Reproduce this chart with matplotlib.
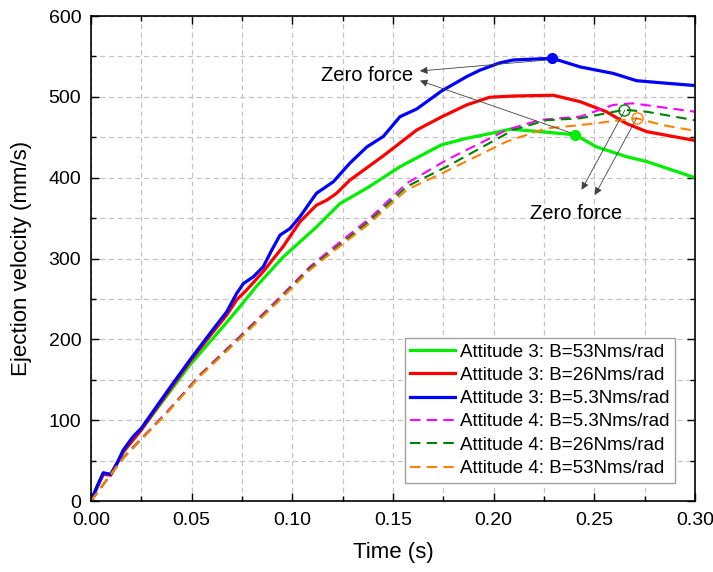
import matplotlib.pyplot as plt
from matplotlib.ticker import MultipleLocator

plt.rcParams['font.family'] = ['Liberation Sans', 'DejaVu Sans']

# Attitude 3 (solid)
t_a3_b53 = [0, 0.006, 0.0098, 0.016, 0.025, 0.049, 0.0657, 0.074, 0.0823, 0.0955, 0.112,
            0.1237, 0.137, 0.1535, 0.174, 0.1866, 0.203, 0.208, 0.223, 0.2405, 0.2512,
            0.266, 0.276, 0.30]
v_a3_b53 = [0, 33, 33, 60, 88, 168, 216, 240.5, 266, 302, 339,
            368, 387, 413.6, 440.5, 448.7, 457, 460, 457, 453, 438,
            426, 420, 400]

t_a3_b26 = [0, 0.003, 0.0061, 0.0098, 0.016, 0.025, 0.0326, 0.049, 0.059, 0.0674, 0.0724,
            0.0773, 0.0856, 0.0955, 0.1038, 0.112, 0.117, 0.122, 0.1286, 0.1452, 0.1618,
            0.174, 0.1866, 0.198, 0.2097, 0.2296, 0.243, 0.256, 0.266, 0.276, 0.30]
v_a3_b26 = [0, 17, 33, 32, 61, 88, 115, 172, 204, 230, 249,
            261, 284, 315, 345.5, 366, 372, 380.7, 397, 427, 459,
            475, 490, 499.5, 501, 502, 494, 481.6, 467, 457, 446]

t_a3_b5 = [0, 0.003, 0.0061, 0.0098, 0.013, 0.016, 0.021, 0.025, 0.0326, 0.04, 0.049,
           0.059, 0.0674, 0.0724, 0.0757, 0.0807, 0.0856, 0.0897, 0.0939, 0.0988, 0.1038,
           0.112, 0.1204, 0.1286, 0.137, 0.1452, 0.1535, 0.1618, 0.174, 0.1866, 0.1932,
           0.203, 0.2097, 0.2292, 0.243, 0.2594, 0.271, 0.285, 0.30]
v_a3_b5 = [0, 18, 35, 33, 47, 63, 80, 90, 117, 143, 174,
           207, 234, 257, 269, 277.5, 290, 310, 329, 337, 351.7,
           380.7, 395, 418, 438, 451, 475.5, 485, 507, 525, 533,
           542, 545.6, 547.7, 537, 529, 520, 517, 514]

# Attitude 4 (dashed)
t_a4_b5 = [0, 0.016, 0.0376, 0.054, 0.0724, 0.0922, 0.1088, 0.122, 0.1386, 0.1568, 0.1767,
           0.2064, 0.223, 0.243, 0.2594, 0.269, 0.30]
v_a4_b5 = [0, 54, 110, 156, 200, 248, 290, 317, 350, 393, 422,
           459, 471.5, 475.5, 490, 492, 481.6]

t_a4_b26 = [0, 0.016, 0.0376, 0.054, 0.0724, 0.0922, 0.1088, 0.122, 0.1386, 0.1568, 0.1767,
            0.2097, 0.226, 0.243, 0.265, 0.276, 0.30]
v_a4_b26 = [0, 53, 109, 155, 198.5, 246, 288, 314, 347, 389, 413.6,
            459, 471, 473.5, 484, 481.6, 471]

t_a4_b53 = [0, 0.016, 0.0376, 0.054, 0.0724, 0.0922, 0.1088, 0.122, 0.1386, 0.1568, 0.174,
            0.2064, 0.226, 0.243, 0.271, 0.284, 0.30]
v_a4_b53 = [0, 53, 108.5, 154, 197, 244.6, 286, 312, 344, 385, 405,
            444.6, 461, 465, 473.5, 465, 458]

# zero force points
zf_solid_t = [0.2292, 0.2405]
zf_solid_v = [547.7, 453]
zf_solid_c = ['#0000ff', '#00ee00']
zf_open_t = [0.265, 0.271]
zf_open_v = [484, 473.5]
zf_open_c = ['#008000', '#ff8000']

fig = plt.figure(figsize=(7.13, 5.72), dpi=100)
ax = fig.add_axes([0.1276, 0.1241, 0.8471, 0.8479])

ax.plot(t_a3_b53, v_a3_b53, color='#00ee00', lw=2.3, label='Attitude 3: B=53Nms/rad')
ax.plot(t_a3_b26, v_a3_b26, color='#ff0000', lw=2.3, label='Attitude 3: B=26Nms/rad')
ax.plot(t_a3_b5, v_a3_b5, color='#0000ff', lw=2.3, label='Attitude 3: B=5.3Nms/rad')
ax.plot(t_a4_b5, v_a4_b5, color='#ff00ff', lw=1.5, dashes=(5, 3), label='Attitude 4: B=5.3Nms/rad')
ax.plot(t_a4_b26, v_a4_b26, color='#008000', lw=1.5, dashes=(5, 3), label='Attitude 4: B=26Nms/rad')
ax.plot(t_a4_b53, v_a4_b53, color='#ff8000', lw=1.5, dashes=(5, 3), label='Attitude 4: B=53Nms/rad')

for t, v, c in zip(zf_solid_t, zf_solid_v, zf_solid_c):
    ax.plot(t, v, 'o', color=c, ms=7, zorder=5)
for t, v, c in zip(zf_open_t, zf_open_v, zf_open_c):
    ax.plot(t, v, 'o', mfc='none', mec=c, ms=8, mew=1.0, zorder=5)

# annotations
arr = dict(arrowstyle='-|>', color='#404040', lw=0.6, mutation_scale=11, shrinkA=0, shrinkB=0)
ax.text(0.1371, 527, 'Zero force', fontsize=14.5, ha='center', va='center')
ax.annotate('', xy=(0.1634, 532), xytext=(0.2265, 545.6), arrowprops=arr)
ax.annotate('', xy=(0.1634, 520), xytext=(0.2388, 455), arrowprops=arr)
ax.text(0.2409, 356, 'Zero force', fontsize=14.5, ha='center', va='center')
ax.annotate('', xy=(0.2437, 385), xytext=(0.2652, 483.7), arrowprops=arr)
ax.annotate('', xy=(0.2503, 378.6), xytext=(0.271, 473.5), arrowprops=arr)

ax.set_xlim(0, 0.30)
ax.set_ylim(0, 600)
ax.xaxis.set_major_locator(MultipleLocator(0.05))
ax.xaxis.set_minor_locator(MultipleLocator(0.025))
ax.yaxis.set_major_locator(MultipleLocator(100))
ax.yaxis.set_minor_locator(MultipleLocator(50))
ax.xaxis.set_major_formatter(plt.FuncFormatter(lambda x, p: f'{x:.2f}'))

ax.grid(True, which='both', color='#c4c4c4', ls=(0, (4, 3)), lw=0.9)
ax.set_axisbelow(True)
ax.tick_params(which='both', direction='in', top=True, right=True, labelsize=14, width=1.0)
ax.tick_params(which='major', length=6)
ax.tick_params(which='minor', length=3.5)
ax.tick_params(axis='x', pad=8)
ax.tick_params(axis='y', pad=7)
for s in ax.spines.values():
    s.set_linewidth(1.2)

ax.set_xlabel('Time (s)', fontsize=16, labelpad=9)
ax.set_ylabel('Ejection velocity (mm/s)', fontsize=16, labelpad=12)

leg = ax.legend(loc='lower right', bbox_to_anchor=(0.967, 0.0377), borderaxespad=0,
                fontsize=13.5, fancybox=False, edgecolor='#a0a0a0', framealpha=1,
                handlelength=2.4, handletextpad=0.25, labelspacing=0.33, borderpad=0.3)
leg.get_frame().set_linewidth(1.0)

fig.savefig('out.png', dpi=100)
